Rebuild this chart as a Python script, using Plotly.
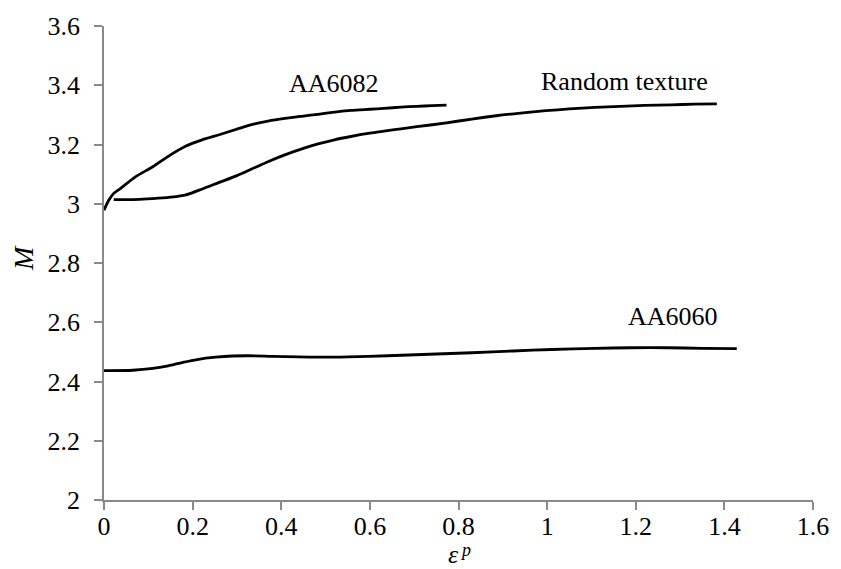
import plotly.graph_objects as go

# ---- data ----
aa6082_x = [0, 0.01, 0.022, 0.036, 0.07, 0.11, 0.15, 0.185, 0.22, 0.26, 0.30, 0.333, 0.37,
            0.408, 0.45, 0.483, 0.52, 0.557, 0.6, 0.632, 0.67, 0.706, 0.74, 0.773]
aa6082_y = [2.978, 3.01, 3.035, 3.05, 3.09, 3.125, 3.165, 3.195, 3.215, 3.233, 3.252, 3.267, 3.279,
            3.288, 3.296, 3.302, 3.309, 3.315, 3.319, 3.322, 3.326, 3.329, 3.331, 3.333]

random_x = [0.022, 0.05, 0.08, 0.11, 0.15, 0.185, 0.222, 0.26, 0.30, 0.333, 0.37, 0.408, 0.45,
            0.483, 0.52, 0.557, 0.6, 0.632, 0.67, 0.706, 0.773, 0.83, 0.885, 0.94, 0.997, 1.05,
            1.108, 1.165, 1.22, 1.28, 1.332, 1.383]
random_y = [3.014, 3.014, 3.015, 3.017, 3.022, 3.03, 3.05, 3.072, 3.095, 3.117, 3.142, 3.165, 3.187,
            3.202, 3.216, 3.227, 3.238, 3.245, 3.253, 3.26, 3.273, 3.286, 3.297, 3.306, 3.314, 3.32,
            3.325, 3.329, 3.332, 3.334, 3.336, 3.337]

aa6060_x = [0, 0.065, 0.11, 0.145, 0.177, 0.21, 0.252, 0.29, 0.326, 0.38, 0.438, 0.49, 0.55,
            0.64, 0.735, 0.83, 0.923, 1.01, 1.108, 1.19, 1.272, 1.35, 1.428]
aa6060_y = [2.437, 2.438, 2.444, 2.453, 2.464, 2.474, 2.482, 2.486, 2.487, 2.485, 2.483, 2.482, 2.483,
            2.487, 2.492, 2.497, 2.503, 2.508, 2.512, 2.514, 2.514, 2.512, 2.511]

labels = ["AA6082", "Random texture", "AA6060"]
label_x = [0.52, 1.175, 1.283]
label_y = [3.405, 3.412, 2.618]

x_ticks = [0, 0.2, 0.4, 0.6, 0.8, 1, 1.2, 1.4, 1.6]
x_tick_text = ["0", "0.2", "0.4", "0.6", "0.8", "1", "1.2", "1.4", "1.6"]
y_ticks = [2, 2.2, 2.4, 2.6, 2.8, 3, 3.2, 3.4, 3.6]
y_tick_text = ["2", "2.2", "2.4", "2.6", "2.8", "3", "3.2", "3.4", "3.6"]

FONT = "Liberation Serif, Times New Roman, serif"

fig = go.Figure()
for xs, ys in [(aa6082_x, aa6082_y), (random_x, random_y), (aa6060_x, aa6060_y)]:
    fig.add_trace(go.Scatter(x=xs, y=ys, mode="lines",
                             line=dict(color="black", width=2.8, shape="spline", smoothing=0.8),
                             showlegend=False, hoverinfo="skip"))

for t, x, y in zip(labels, label_x, label_y):
    fig.add_annotation(x=x, y=y, xref="x", yref="y", text=t, showarrow=False,
                       font=dict(family=FONT, size=26, color="black"))

# x axis title: ε with superscript p
fig.add_annotation(x=0.5 + 2 / 716, y=-0.116, xref="paper", yref="paper", text="<i>ε</i>",
                   showarrow=False, xanchor="right", yanchor="middle", borderpad=0,
                   font=dict(family=FONT, size=26, color="black"))
fig.add_annotation(x=0.5 + 1 / 716, y=-0.105, xref="paper", yref="paper", text="<i>p</i>",
                   showarrow=False, xanchor="left", yanchor="middle", borderpad=0,
                   font=dict(family=FONT, size=18, color="black"))
# y axis title
fig.add_annotation(x=-0.1145, y=0.51, xref="paper", yref="paper", text="<i>M</i>",
                   showarrow=False, textangle=-90, xanchor="center", yanchor="middle",
                   font=dict(family=FONT, size=28, color="black"))

axis_common = dict(showgrid=False, zeroline=False, showline=True, linecolor="#898989",
                   linewidth=1.5, ticks="outside", ticklen=8, tickcolor="#898989", tickwidth=1.5,
                   tickfont=dict(family=FONT, size=26, color="black"))

fig.update_xaxes(range=[0, 1.6], tickvals=x_ticks, ticktext=x_tick_text, ticklabelstandoff=-6,
                 **axis_common)
fig.update_yaxes(range=[2, 3.6], tickvals=y_ticks, ticktext=y_tick_text, ticklabelstandoff=9,
                 **axis_common)

fig.update_layout(width=841, height=569, margin=dict(l=104, r=21, t=20, b=69),
                  plot_bgcolor="white", paper_bgcolor="white",
                  font=dict(family=FONT, size=26, color="black"))

fig.write_html("out.html")
